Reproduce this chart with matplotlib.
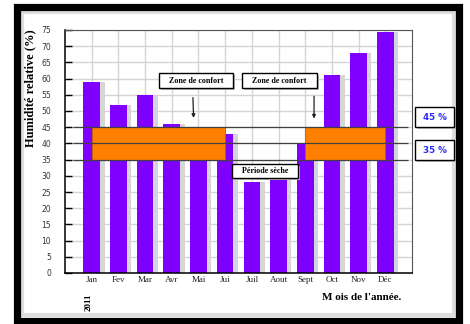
import matplotlib
matplotlib.use('Agg')
import matplotlib.pyplot as plt
from matplotlib.patches import Rectangle
import numpy as np

# Data
mois = ['Jan', 'Fev', 'Mar', 'Avr', 'Mai', 'Jui', 'Juil', 'Aout', 'Sept', 'Oct', 'Nov', 'Déc']
humidite = [59, 52, 55, 46, 42, 43, 28, 30, 40, 61, 68, 74.5]
zones_confort = [(0, 5), (8, 11)]   # index du mois debut/fin
seuils = [35, 40, 45]
yticks = list(range(0, 80, 5))

W, H = 470, 324
fig = plt.figure(figsize=(W / 100, H / 100), dpi=100)
fig.patch.set_facecolor('white')

# Black frame with a soft grey inner edge
fig.add_artist(Rectangle((22 / W, 1 - 315 / H), 432 / W, 303 / H, transform=fig.transFigure,
                         fill=False, edgecolor='#dedede', linewidth=3, zorder=0))
fig.add_artist(Rectangle((16.5 / W, 1 - 321 / H), 442.5 / W, 314.5 / H, transform=fig.transFigure,
                         fill=False, edgecolor='black', linewidth=5.2, zorder=10))

ax = fig.add_axes([65 / W, 1 - 273 / H, 347 / W, 243 / H])
x = np.arange(len(mois))

# Grid
for yy in yticks:
    ax.axhline(yy, color='#d4d4d4', linewidth=1, zorder=0)
for xx in x:
    ax.axvline(xx, color='#d4d4d4', linewidth=1, zorder=0)

# Bars with soft shadow
ax.bar(x + 0.16, humidite, width=0.64, color='#d6d6d6', zorder=1)
ax.bar(x, humidite, width=0.62, color='#8000ff', zorder=2)

# Comfort zones
for a, b in zones_confort:
    ax.add_patch(Rectangle((a, seuils[0]), b - a, seuils[-1] - seuils[0],
                           facecolor='#ff8000', edgecolor='#c06000', linewidth=0.6, zorder=3))
ax.hlines(seuils, -0.7, 11.85, color='#404040', linewidth=0.9, zorder=4)

# Text boxes (x0, x1, y0, y1 in data units)
def boite(x0, x1, y0, y1, txt):
    ax.add_patch(Rectangle((x0 + 0.08, y0 - 0.6), x1 - x0, y1 - y0, facecolor='#bdbdbd',
                           edgecolor='none', zorder=5))
    ax.add_patch(Rectangle((x0, y0), x1 - x0, y1 - y0, facecolor='white',
                           edgecolor='black', linewidth=1, zorder=6))
    ax.text((x0 + x1) / 2, (y0 + y1) / 2, txt, fontsize=5.8, family='Liberation Serif',
            weight='bold', ha='center', va='center', zorder=7)

boite(2.52, 5.29, 57.1, 61.7, 'Zone de confort')
boite(5.63, 8.44, 57.1, 61.7, 'Zone de confort')
boite(5.25, 7.73, 29.3, 33.6, 'Période sèche')

arrow = dict(arrowstyle='-|>', color='#202020', linewidth=0.9, mutation_scale=5)
ax.annotate('', xy=(3.82, 47.0), xytext=(3.79, 55.0), arrowprops=arrow, zorder=6)
ax.annotate('', xy=(8.33, 46.8), xytext=(8.33, 55.4), arrowprops=arrow, zorder=6)

# Axes styling
ax.set_xlim(-1, 12)
ax.set_ylim(0, 75)
ax.set_yticks(yticks)
ax.set_yticklabels([str(v) for v in yticks], fontsize=5.5, color='#333333')
ax.set_xticks(x)
ax.set_xticklabels(mois, fontsize=6.5, family='Liberation Serif', color='#222222')
ax.tick_params(axis='y', direction='in', length=5, width=1, color='black', pad=10)
ax.tick_params(axis='x', length=0, pad=2)
for s in ['left', 'bottom']:
    ax.spines[s].set_color('black')
    ax.spines[s].set_linewidth(1.1)
for s in ['top', 'right']:
    ax.spines[s].set_color('#555555')
    ax.spines[s].set_linewidth(0.8)
ax.set_facecolor('white')

# Labels
fig.text(30 / W, 1 - 88 / H, 'Humidité relative (%)', rotation=90, fontsize=9,
         family='Liberation Serif', weight='bold', ha='center', va='center')
fig.text(362 / W, 1 - 297 / H, "M ois de l'année.", fontsize=8, family='Liberation Serif',
         weight='bold', ha='center', va='center')
fig.text(89 / W, 1 - 302 / H, '2011', rotation=90, fontsize=6.5, family='Liberation Serif',
         weight='bold', ha='center', va='center')

# Threshold tags on the right
for label, yc in [('45 %', 117), ('35 %', 150)]:
    fig.add_artist(Rectangle((417 / W, 1 - (yc + 12) / H), 39 / W, 20 / H, transform=fig.transFigure,
                             facecolor='#c4c4c4', edgecolor='none', zorder=4))
    fig.add_artist(Rectangle((415 / W, 1 - (yc + 10) / H), 39 / W, 20 / H, transform=fig.transFigure,
                             facecolor='white', edgecolor='black', linewidth=1, zorder=5))
    fig.text(434.5 / W, 1 - yc / H, label, fontsize=6.3, color='#2a2aff', weight='bold',
             family='DejaVu Sans', ha='center', va='center', zorder=6)

fig.savefig('out.png', dpi=100)
